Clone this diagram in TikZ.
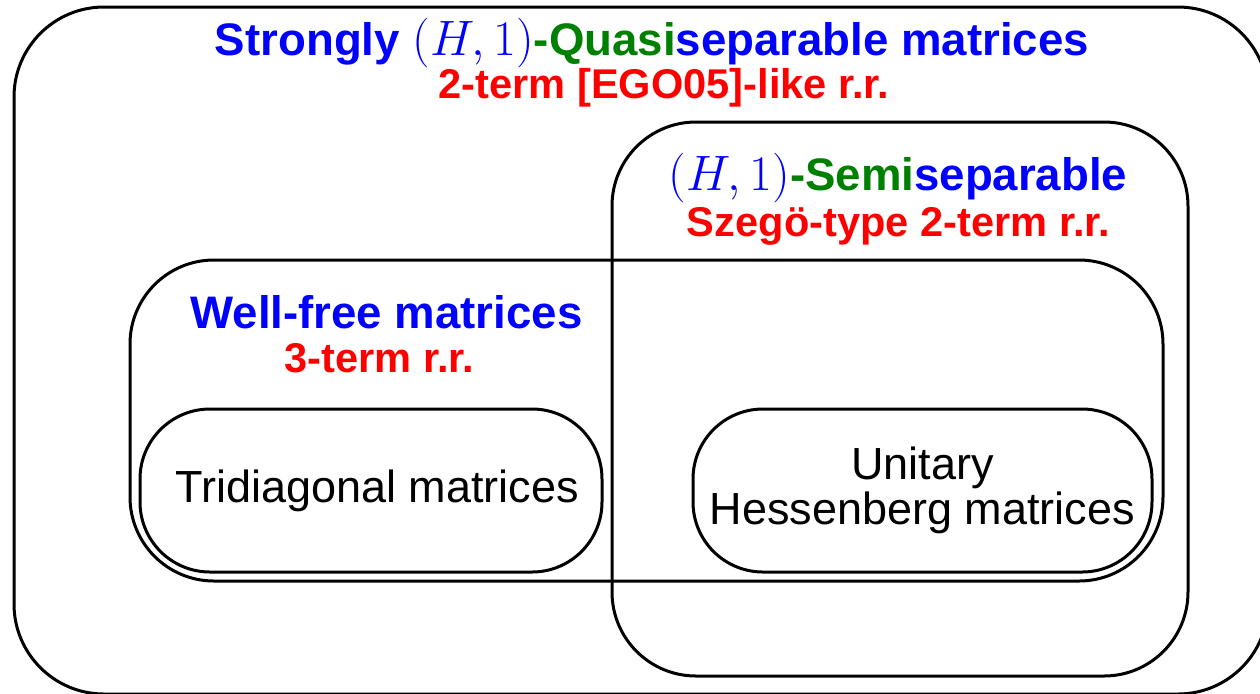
\documentclass[tikz,border=0pt]{standalone}
\usepackage[no-math]{fontspec}
\setmainfont{Liberation Sans}
\usetikzlibrary{positioning}
\definecolor{setblue}{RGB}{0,0,255}
\definecolor{setgreen}{RGB}{0,128,0}
\definecolor{setred}{RGB}{255,0,0}
\newcommand{\Hone}{{\fontsize{27.3}{30}\selectfont$(H,1)$}}

\begin{document}
\begin{tikzpicture}[x=0.5pt, y=-0.5pt,
  set/.style={draw=black, line width=1.5pt, rounded corners=45pt, inner sep=0pt},
  pill/.style={set, rounded corners=35pt, minimum height=81.5pt,
               align=center, font=\fontsize{22.5}{22.5}\selectfont},
  hd/.style={text=setblue, font=\fontsize{22.8}{26}\selectfont\bfseries, anchor=base, inner sep=0pt},
  rr/.style={text=setred, font=\fontsize{20.8}{24}\selectfont\bfseries, anchor=base, inner sep=0pt}
]
\clip (0,0) rectangle (1260,693);
\fill[white] (0,0) rectangle (1260,693);

% the sets
\node[set, minimum width=627pt, minimum height=343.5pt] (quasi) at (641,350.5) {};
\node[set, rounded corners=42pt, minimum width=288pt, minimum height=277pt] (semi) at (900,399) {};
\node[set, rounded corners=42pt, minimum width=516.5pt, minimum height=160.5pt] (wellfree) at (646.5,420.5) {};
\node[pill, minimum width=231pt] (tridiag) at (371,490.5) {\ Tridiagonal matrices};
\node[pill, minimum width=229.5pt] (unitary) at (922.5,490.5) {Unitary\\Hessenberg matrices};

% labels
\node[hd] (quasititle) at (652,55)
  {Strongly \Hone{\color{setgreen}-Quasi}separable matrices};
\node[rr] (quasirr) at (664,98) {2-term [EGO05]-like r.r.};
\node[hd] (semititle) at (898,190) {\Hone{\color{setgreen}-Semi}separable};
\node[rr] (semirr) at (898.5,236) {Szegö-type 2-term r.r.};
\node[hd] (wftitle) at (386.5,328) {Well-free matrices};
\node[rr] (wfrr) at (379.5,372) {3-term r.r.};

\end{tikzpicture}
\end{document}
